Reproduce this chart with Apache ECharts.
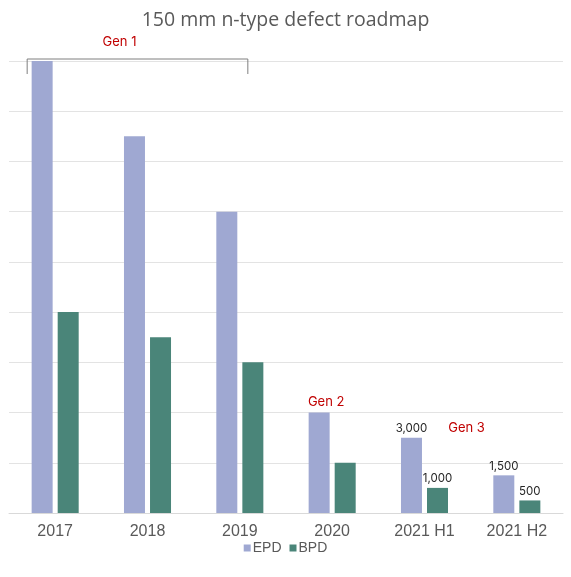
<!DOCTYPE html>
<html>
<head>
<meta charset="utf-8">
<script src="https://cdn.jsdelivr.net/npm/echarts@6/dist/echarts.min.js"></script>
<style>
  html, body { margin: 0; padding: 0; background: #fff; }
  #chart { width: 571px; height: 577px; }
</style>
</head>
<body>
<div id="chart"></div>
<script>
// values
const categories = ['2017', '2018', '2019', '2020', '2021 H1', '2021 H2'];
const epd = [18000, 15000, 12000, 4000, 3000, 1500];
const bpd = [8000, 7000, 6000, 2000, 1000, 500];
// only these categories carry a value label
const labelled = ['2021 H1', '2021 H2'];
const genLabels = [
  { text: 'Gen 1', cat: '2018', value: 18750, dx: -28 },
  { text: 'Gen 2', cat: '2020', value: 4400, dx: -6 },
  { text: 'Gen 3', cat: '2021 H1', value: 3400, dx: 42 }
];

const chart = echarts.init(document.getElementById('chart'), undefined, { renderer: 'canvas' });

function withLabels(values) {
  return values.map((v, i) => ({
    value: v,
    label: { show: labelled.includes(categories[i]) }
  }));
}

const barLabel = {
  position: 'top',
  distance: 3,
  color: '#262626',
  fontFamily: 'Inter',
  fontSize: 11.5,
  formatter: p => p.value.toLocaleString('en-US')
};

chart.setOption({
  animation: false,
  title: {
    text: '150 mm n-type defect roadmap',
    left: 'center',
    top: 5,
    textStyle: { fontFamily: 'Open Sans', fontSize: 19.5, fontWeight: 'normal', color: '#595959' }
  },
  legend: {
    bottom: 17,
    left: 'center',
    itemWidth: 7,
    itemHeight: 7,
    itemGap: 8,
    icon: 'rect',
    textStyle: { fontFamily: 'Liberation Sans', fontSize: 14, color: '#595959', padding: [0, 0, 0, -3] }
  },
  grid: { left: 9, right: 8, top: 61, bottom: 64 },
  xAxis: {
    type: 'category',
    data: categories,
    axisLine: { lineStyle: { color: '#d9d9d9' } },
    axisTick: { show: false },
    axisLabel: { fontFamily: 'Liberation Sans', fontSize: 16, color: '#595959', margin: 11 }
  },
  yAxis: {
    type: 'value',
    min: 0,
    max: 18000,
    interval: 2000,
    axisLabel: { show: false },
    axisLine: { show: false },
    axisTick: { show: false },
    splitLine: { lineStyle: { color: '#e3e3e3' } }
  },
  series: [
    {
      name: 'EPD', type: 'bar', barWidth: 21, barGap: '24%',
      itemStyle: { color: '#9fa8d2' },
      label: barLabel,
      data: withLabels(epd)
    },
    {
      name: 'BPD', type: 'bar', barWidth: 21,
      itemStyle: { color: '#4a8579' },
      label: barLabel,
      data: withLabels(bpd)
    }
  ]
});

// annotations placed from the axes
function px(cat, value) { return chart.convertToPixel({ gridIndex: 0 }, [cat, value]); }

const [x17] = px('2017', 0);
const [x19] = px('2019', 0);
const [, yTop] = px('2017', 18000);
const bracketL = x17 - 28;
const bracketR = x19 + 8;

const graphics = [{
  type: 'polyline',
  shape: { points: [[bracketL, yTop + 13], [bracketL, yTop - 2], [bracketR, yTop - 2], [bracketR, yTop + 13]] },
  style: { stroke: '#7f7f7f', lineWidth: 1, fill: null }
}];

genLabels.forEach(g => {
  const [gx, gy] = px(g.cat, g.value);
  graphics.push({
    type: 'text',
    x: gx + g.dx, y: gy,
    style: {
      text: g.text, fill: '#c00000', fontFamily: 'Inter', fontSize: 13,
      align: 'center', verticalAlign: 'middle'
    }
  });
});

chart.setOption({ graphic: graphics });
</script>
</body>
</html>
